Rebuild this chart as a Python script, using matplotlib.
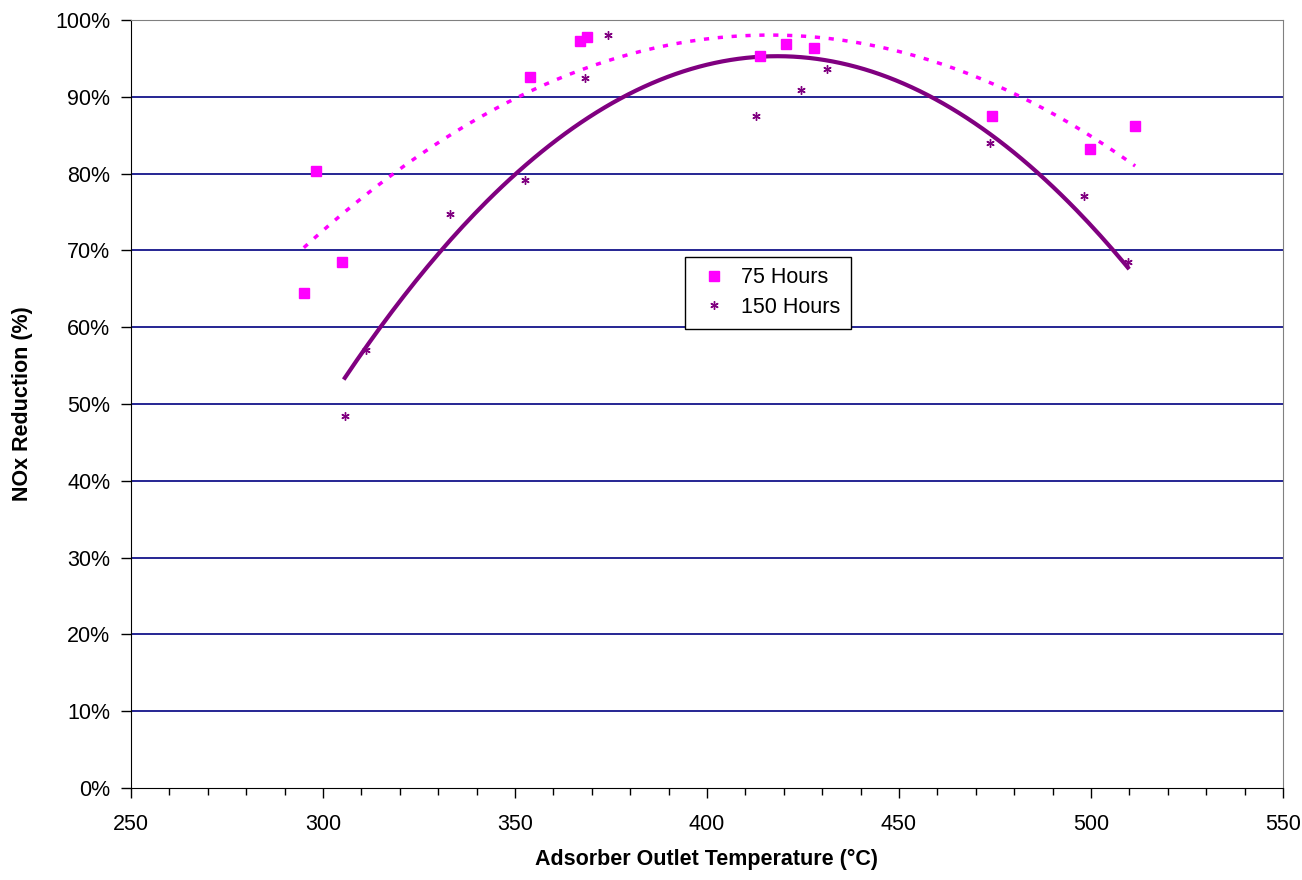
import matplotlib.pyplot as plt
import numpy as np

plt.rcParams['font.family'] = ['Liberation Sans', 'DejaVu Sans']

# 75 hours (squares)
t75 = [295.0, 298.2, 304.9, 353.9, 366.9, 368.8, 413.8, 420.6, 427.9, 474.2, 499.7, 511.5]
nox75 = [64.4, 80.3, 68.5, 92.6, 97.3, 97.8, 95.3, 96.9, 96.4, 87.5, 83.2, 86.2]

# 150 hours (asterisks)
t150 = [305.7, 311.2, 333.1, 352.6, 368.2, 374.2, 412.8, 424.5, 431.3, 473.7, 498.2, 509.6]
nox150 = [48.4, 57.0, 74.7, 79.2, 92.4, 98.0, 87.5, 90.9, 93.6, 84.0, 77.1, 68.5]

yticks = np.arange(0, 101, 10)

fig = plt.figure(figsize=(13.02, 8.8), dpi=100)
ax = fig.add_axes([0.1006, 0.1045, 0.8848, 0.8727])

for yv in yticks[1:]:
    ax.axhline(yv, color='#000080', lw=1.2, zorder=1)

# 2nd order polynomial trendlines (like Excel)
c75 = np.polyfit(t75, nox75, 2)
xx75 = np.linspace(min(t75), max(t75), 200)
ax.plot(xx75, np.polyval(c75, xx75), color='#FF00FF', lw=2.5, ls=(0, (1.5, 2.5)), zorder=2)

c150 = np.polyfit(t150, nox150, 2)
xx150 = np.linspace(min(t150), max(t150), 200)
ax.plot(xx150, np.polyval(c150, xx150), color='#800080', lw=3, zorder=2)

ax.plot(t75, nox75, ls='none', marker='s', ms=6.5, color='#FF00FF', mec='#FF00FF', label='75 Hours', zorder=3)
ax.plot(t150, nox150, ls='none', marker=(6, 2, 0), ms=6, color='#800080', mec='#800080', mew=1.0, label='150 Hours', zorder=3)

ax.set_xlim(250, 550)
ax.set_ylim(0, 100)
ax.set_xticks(np.arange(250, 551, 50))
ax.set_xticks(np.arange(250, 551, 10), minor=True)
ax.set_yticks(yticks)
ax.set_yticklabels(['%d%%' % v for v in yticks])
ax.tick_params(axis='both', which='major', direction='out', length=7, width=1, labelsize=15.5, pad=8)
ax.tick_params(axis='x', which='minor', direction='out', length=5, width=1)
ax.tick_params(axis='x', which='major', pad=12)

for s in ['top', 'right']:
    ax.spines[s].set_color('#808080')
for s in ['left', 'bottom']:
    ax.spines[s].set_color('black')

ax.set_xlabel('Adsorber Outlet Temperature (°C)', fontsize=15.5, fontweight='bold', labelpad=10)
ax.set_ylabel('NOx Reduction (%)', fontsize=15.5, fontweight='bold', labelpad=16)

leg = ax.legend(loc='upper left', bbox_to_anchor=(0.481, 0.692), fontsize=15.5, frameon=True,
                fancybox=False, edgecolor='black', framealpha=1, handlelength=1.7,
                handletextpad=0.4, borderpad=0.5, labelspacing=0.4, borderaxespad=0,
                markerscale=1.0)
leg.get_frame().set_linewidth(1)

fig.savefig('out.png', dpi=100)
